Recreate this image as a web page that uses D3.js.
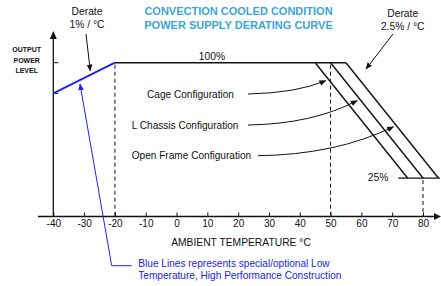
<!DOCTYPE html>
<html>
<head>
<script src="https://cdnjs.cloudflare.com/ajax/libs/d3/7.8.5/d3.min.js"></script>
<style>
  body { margin: 0; background: #fff; }
  text { font-family: "Liberation Sans", Arial, sans-serif; }
</style>
</head>
<body>
<div id="graph"></div>
<script>
// data
var tempTicks = [-40, -30, -20, -10, 0, 10, 20, 30, 40, 50, 60, 70, 80];
var flatLine = [[-20, 100], [55, 100]];          // 100% plateau
var configNames = ["Cage Configuration", "L Chassis Configuration", "Open Frame Configuration"];
var derateStart = [45, 50, 55];                    // temp where 100% ends
var derateEnd = [75, 80, 85];                      // temp where 25% is reached
var lowTempLine = [[-40, 80], [-20, 100]];         // blue, 1%/°C
var floorLine = [[72, 25], [85.5, 25]];
var dashedRefs = [[-20, 100], [50, 100], [80, 25]];
var arrowTargets = [[49.4, 89], [59.6, 76], [71.4, 59]];

var width = 441, height = 286;
var svg = d3.select("#graph").append("svg")
    .attr("width", width).attr("height", height);

var x = d3.scaleLinear().domain([-40, 80]).range([53.3, 423]);
var y = d3.scaleLinear().domain([0, 100]).range([216.5, 62.7]);

var defs = svg.append("defs");
function marker(id, color) {
    defs.append("marker").attr("id", id)
        .attr("viewBox", "0 0 10 10").attr("refX", 9).attr("refY", 5)
        .attr("markerWidth", 7).attr("markerHeight", 7).attr("orient", "auto")
        .append("path").attr("d", "M0,1 L10,5 L0,9 Z").attr("fill", color);
}
marker("ak", "#111");
marker("ab", "#2222ee");

var line = d3.line().x(function (d) { return x(d[0]); }).y(function (d) { return y(d[1]); });

// x axis
var xAxis = d3.axisBottom(x).tickValues(tempTicks).tickFormat(function (d) { return String(d); })
    .tickSizeInner(-4).tickSizeOuter(0).tickPadding(3);
var gx = svg.append("g").attr("transform", "translate(0," + y(0) + ")").call(xAxis);
gx.select(".domain").remove();
gx.selectAll("text").attr("font-size", "10px").attr("fill", "#111");
gx.selectAll("line").attr("stroke", "#111");
svg.append("line").attr("x1", 38).attr("x2", 434).attr("y1", y(0)).attr("y2", y(0))
    .attr("stroke", "#111").attr("stroke-width", 1.3);
svg.append("path").attr("d", "M434," + (y(0) - 3.5) + " L441," + y(0) + " L434," + (y(0) + 3.5) + " Z").attr("fill", "#111");

// y axis
svg.append("line").attr("x1", x(-40)).attr("x2", x(-40)).attr("y1", 38).attr("y2", y(0))
    .attr("stroke", "#111").attr("stroke-width", 1.3);
svg.append("path").attr("d", "M" + (x(-40) - 3.5) + ",39 L" + x(-40) + ",31 L" + (x(-40) + 3.5) + ",39 Z").attr("fill", "#111");
[100, 80].forEach(function (p) {
    svg.append("line").attr("x1", x(-40)).attr("x2", x(-40) + 5).attr("y1", y(p)).attr("y2", y(p))
        .attr("stroke", "#111");
});

// dashed reference lines
svg.selectAll(".dash").data(dashedRefs).enter().append("line")
    .attr("x1", function (d) { return x(d[0]); }).attr("x2", function (d) { return x(d[0]); })
    .attr("y1", function (d) { return y(d[1]) + 2; }).attr("y2", y(0))
    .attr("stroke", "#111").attr("stroke-dasharray", "4,3");

// curves
svg.append("path").attr("d", line(flatLine)).attr("stroke", "#111").attr("stroke-width", 1.6).attr("fill", "none");
svg.selectAll(".derate").data(derateStart).enter().append("path")
    .attr("d", function (d, i) { return line([[d, 100], [derateEnd[i], 25]]); })
    .attr("stroke", "#111").attr("stroke-width", 1.4).attr("fill", "none");
svg.append("path").attr("d", line(floorLine)).attr("stroke", "#111").attr("stroke-width", 1.2).attr("fill", "none");
svg.append("path").attr("d", line(lowTempLine)).attr("stroke", "#2222ee").attr("stroke-width", 2).attr("fill", "none");

// texts
function txt(t, px, py, size, opts) {
    opts = opts || {};
    return svg.append("text").attr("x", px).attr("y", py).text(t)
        .attr("font-size", size + "px").attr("fill", opts.fill || "#111")
        .attr("text-anchor", opts.anchor || "start")
        .attr("font-weight", opts.bold ? "bold" : "normal");
}
txt("CONVECTION COOLED CONDITION", 238.5, 15, 11, { anchor: "middle", bold: true, fill: "#3aa6d8" });
txt("POWER SUPPLY DERATING CURVE", 238.5, 29, 11, { anchor: "middle", bold: true, fill: "#3aa6d8" });
txt("Derate", 87, 15, 10.3, { anchor: "middle" });
txt("1% / °C", 87, 28, 10.3, { anchor: "middle" });
txt("Derate", 402.7, 17, 10.3, { anchor: "middle" });
txt("2.5% / °C", 402.7, 29.5, 10.3, { anchor: "middle" });
txt("OUTPUT", 26.7, 51.5, 7, { anchor: "middle", bold: true });
txt("POWER", 26.7, 62.5, 7, { anchor: "middle", bold: true });
txt("LEVEL", 26.7, 73, 7, { anchor: "middle", bold: true });
txt("100%", 212, 60, 10.3, { anchor: "middle" });
txt("25%", 378, 180.5, 10.3, { anchor: "middle" });
txt("AMBIENT TEMPERATURE °C", 241, 246, 10.3, { anchor: "middle" });
txt("Blue Lines represents special/optional Low", 138.3, 267, 10.1, { fill: "#2222ee" });
txt("Temperature, High Performance Construction", 138.3, 279, 10.1, { fill: "#2222ee" });

// config labels with curved arrows
var labelPos = [[147, 94], [131.7, 125], [131.7, 155.7]];
var arrowStart = [[248, 94], [248, 125], [258, 155.7]];
configNames.forEach(function (name, i) {
    txt(name, labelPos[i][0], labelPos[i][1] + 3.7, 10.1);
    var s = arrowStart[i], t = [x(arrowTargets[i][0]) - 3, y(arrowTargets[i][1]) + 1];
    var cx = (s[0] + t[0]) / 2 + 10, cy = s[1] - 1;
    svg.append("path").attr("d", "M" + s[0] + "," + s[1] + " Q" + cx + "," + cy + " " + t[0] + "," + t[1])
        .attr("stroke", "#111").attr("fill", "none").attr("stroke-width", 1)
        .attr("marker-end", "url(#ak)");
});

// derate arrows
svg.append("line").attr("x1", 86).attr("y1", 34).attr("x2", x(-28)).attr("y2", y(92.1) - 4)
    .attr("stroke", "#111").attr("marker-end", "url(#ak)");
svg.append("line").attr("x1", 393).attr("y1", 34).attr("x2", 366).attr("y2", 69)
    .attr("stroke", "#111").attr("marker-end", "url(#ak)");

// blue leader
svg.append("path").attr("d", "M131.7,265.7 L111.7,265.7 L80,84")
    .attr("stroke", "#2222ee").attr("fill", "none").attr("marker-end", "url(#ab)");
</script>
</body>
</html>
